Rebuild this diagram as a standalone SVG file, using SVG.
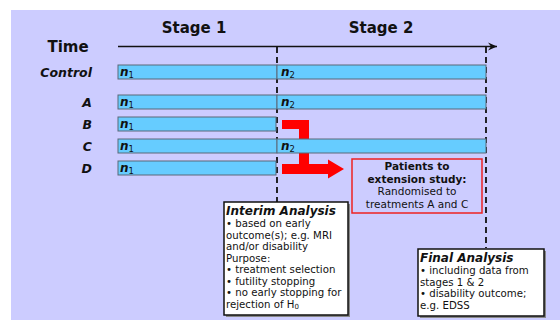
<svg xmlns="http://www.w3.org/2000/svg" width="560" height="320" viewBox="0 0 560 320">
<defs>
<style>
text{font-family:"DejaVu Sans",Verdana,sans-serif;fill:#111}
.hd{font-size:15px;font-weight:bold}
.lab{font-size:12.5px;font-weight:bold;font-style:italic;text-anchor:end}
.bar{fill:#66ccff;stroke:#5a6878;stroke-width:1}
.n{font-size:12px;font-weight:bold;font-style:italic}
.sub{font-size:8.5px;font-weight:normal;font-style:normal}
.dash{stroke:#111;stroke-width:1.8;stroke-dasharray:6 4;fill:none}
.box{fill:#fff;stroke:#111;stroke-width:1.5}
.sh{fill:#888}
.bt{font-size:12px;font-weight:bold;font-style:italic}
.tx{font-size:10.2px}
.ct{font-size:10.5px;text-anchor:middle}
</style>
<marker id="ah" markerWidth="10" markerHeight="10" refX="9" refY="5" orient="auto" markerUnits="userSpaceOnUse">
<path d="M0,1 L9,5 L0,9 L3,5 Z" fill="#111"/>
</marker>
</defs>
<rect x="11" y="10" width="549" height="310" fill="#ccccff"/>

<g id="header">
<text class="hd" x="194" y="33" text-anchor="middle">Stage 1</text>
<text class="hd" x="381" y="33" text-anchor="middle">Stage 2</text>
<text class="hd" x="68" y="52" text-anchor="middle" font-size="16">Time</text>
</g>

<g id="connectors">
<line x1="118" y1="46.5" x2="497" y2="46.5" stroke="#111" stroke-width="1.5" marker-end="url(#ah)"/>
<line class="dash" x1="277" y1="47" x2="277" y2="202"/>
<line class="dash" x1="486" y1="47" x2="486" y2="248"/>
<path id="redarrow" d="M282,120 H309 V164 H328 V159.5 L344,169 L328,178.5 V174 H282 V164 H299 V129 H282 Z" fill="#ff0000"/>
</g>

<g id="row-control">
<text class="lab" x="92" y="77">Control</text>
<rect class="bar" x="118" y="65" width="159" height="14"/>
<rect class="bar" x="277" y="65" width="209" height="14"/>
<text class="n" x="120" y="76">n<tspan class="sub" dy="2">1</tspan></text>
<text class="n" x="281" y="76">n<tspan class="sub" dy="2">2</tspan></text>
</g>
<g id="row-A">
<text class="lab" x="92" y="107">A</text>
<rect class="bar" x="118" y="95" width="159" height="14"/>
<rect class="bar" x="277" y="95" width="209" height="14"/>
<text class="n" x="120" y="106">n<tspan class="sub" dy="2">1</tspan></text>
<text class="n" x="281" y="106">n<tspan class="sub" dy="2">2</tspan></text>
</g>
<g id="row-B">
<text class="lab" x="92" y="129">B</text>
<rect class="bar" x="118" y="117" width="158" height="14"/>
<text class="n" x="120" y="128">n<tspan class="sub" dy="2">1</tspan></text>
</g>
<g id="row-C">
<text class="lab" x="92" y="151">C</text>
<rect class="bar" x="118" y="139" width="159" height="14"/>
<rect class="bar" x="277" y="139" width="209" height="14"/>
<text class="n" x="120" y="150">n<tspan class="sub" dy="2">1</tspan></text>
<text class="n" x="281" y="150">n<tspan class="sub" dy="2">2</tspan></text>
</g>
<g id="row-D">
<text class="lab" x="92" y="173">D</text>
<rect class="bar" x="118" y="161" width="158" height="14"/>
<text class="n" x="120" y="172">n<tspan class="sub" dy="2">1</tspan></text>
</g>

<g id="extension">
<rect x="352" y="159" width="130" height="54" fill="none" stroke="#ee2222" stroke-width="1.5"/>
<text class="ct" x="417" y="170" font-weight="bold">Patients to</text>
<text class="ct" x="417" y="183" font-weight="bold">extension study:</text>
<text class="ct" x="417" y="195">Randomised to</text>
<text class="ct" x="417" y="208">treatments A and C</text>
</g>

<g id="interim">
<rect class="sh" x="226" y="204" width="124" height="113"/>
<rect class="box" x="224" y="202" width="124" height="113"/>
<text class="bt" x="226" y="215">Interim Analysis</text>
<text class="tx" x="226" y="227">• based on early</text>
<text class="tx" x="226" y="238.5">outcome(s); e.g. MRI</text>
<text class="tx" x="226" y="250">and/or disability</text>
<text class="tx" x="226" y="261.5">Purpose:</text>
<text class="tx" x="226" y="273">• treatment selection</text>
<text class="tx" x="226" y="284.5">• futility stopping</text>
<text class="tx" x="226" y="296">• no early stopping for</text>
<text class="tx" x="226" y="307.5">rejection of H<tspan font-size="7" dy="1.5">0</tspan></text>
</g>

<g id="final">
<rect class="sh" x="420" y="251" width="126" height="67"/>
<rect class="box" x="418" y="249" width="126" height="67"/>
<text class="bt" x="420" y="262">Final Analysis</text>
<text class="tx" x="420" y="274">• including data from</text>
<text class="tx" x="420" y="285.5">stages 1 &amp; 2</text>
<text class="tx" x="420" y="297">• disability outcome;</text>
<text class="tx" x="420" y="308.5">e.g. EDSS</text>
</g>
</svg>
